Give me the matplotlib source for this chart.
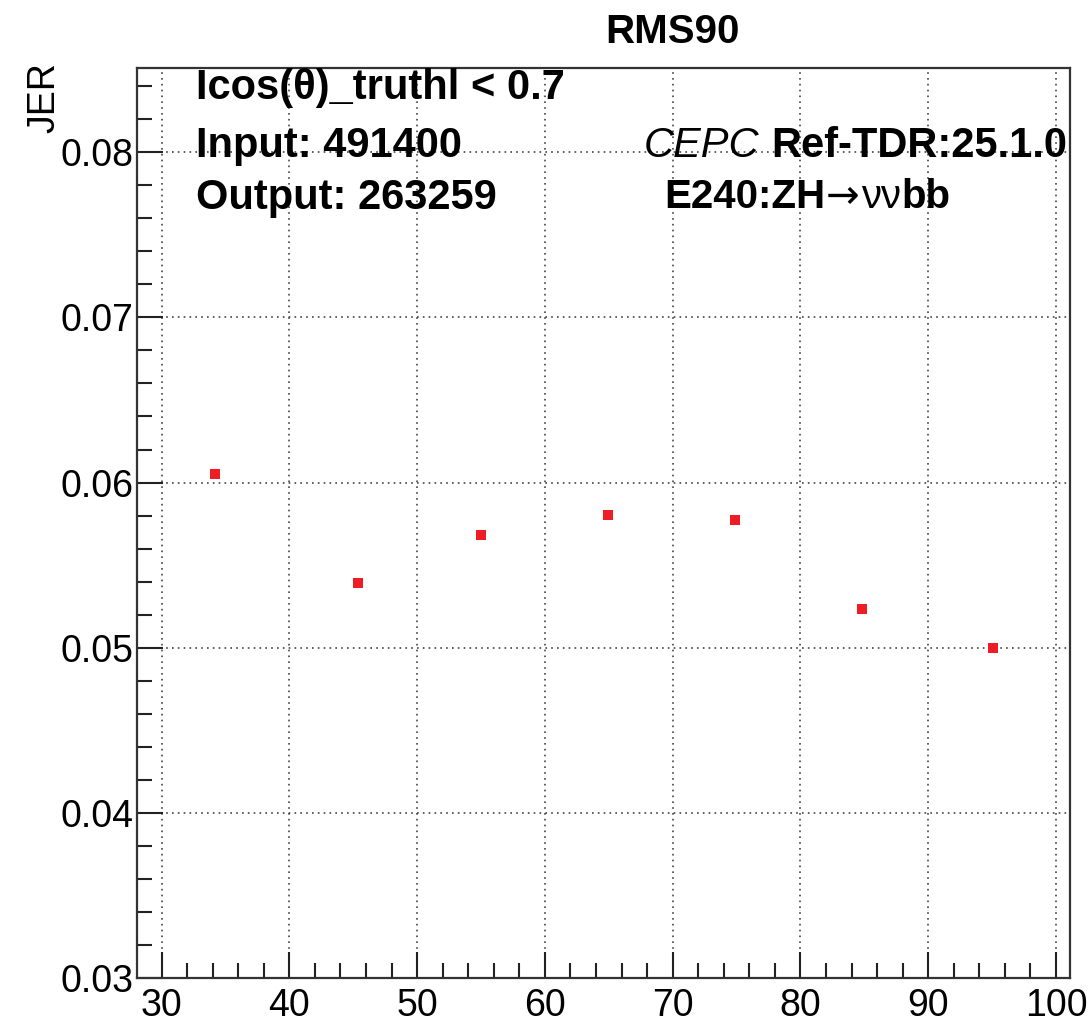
import matplotlib
matplotlib.use("Agg")
import matplotlib.pyplot as plt
from matplotlib.ticker import MultipleLocator

# jet energy (GeV) vs JER (RMS90)
energy = [34.2, 45.4, 55.0, 64.95, 74.9, 84.8, 95.1]
jer = [0.06054, 0.05393, 0.05683, 0.05803, 0.05773, 0.05237, 0.04996]

title = "RMS90"
cut_text = "Icos(θ)_truthl < 0.7"
input_text = "Input: 491400"
output_text = "Output: 263259"
exp_text = "CEPC"
ver_text = "Ref-TDR:25.1.0"
proc_parts = ["E240:ZH", "→", "νν", "bb"]

plt.rcParams['font.family'] = ['Liberation Sans', 'DejaVu Sans']

W, H = 1089, 1024
fig = plt.figure(figsize=(W / 100, H / 100), dpi=100)
ax = fig.add_axes([137.3 / W, 1 - 978 / H, (1070 - 137.3) / W, (978 - 68) / H])


def px(x, y):
    return x / W, 1 - y / H


ax.plot(energy, jer, linestyle='none', marker='s', markersize=7.4,
        color='#ee1c24', markeredgewidth=0, zorder=5)

ax.set_xlim(28.1, 101.1)
ax.set_ylim(0.03, 0.0851)
ax.xaxis.set_major_locator(MultipleLocator(10))
ax.xaxis.set_minor_locator(MultipleLocator(2))
ax.yaxis.set_major_locator(MultipleLocator(0.01))
ax.yaxis.set_minor_locator(MultipleLocator(0.002))
ax.yaxis.set_major_formatter(matplotlib.ticker.FormatStrFormatter('%.2f'))

ax.tick_params(which='both', direction='in', top=False, right=False,
               color='#222222', width=1.5)
ax.tick_params(which='major', length=19, labelsize=27)
ax.tick_params(axis='x', which='major', pad=7)
ax.tick_params(axis='y', which='major', pad=3)
ax.tick_params(which='minor', length=10.5)

ax.grid(True, which='major', linestyle=(0, (1, 2.5)), color='#444444', linewidth=1.2)
for s in ax.spines.values():
    s.set_linewidth(1.6)
    s.set_color('#333333')

fig.text(*px(44, 62), "JER", rotation=90, ha='center', va='top', fontsize=27)
fig.text(*px(672, 32), title, ha='center', va='center', fontsize=29, fontweight='bold')

fig.text(*px(196, 99), cut_text, ha='left', va='baseline', fontsize=30, fontweight='bold')
fig.text(*px(196, 157), input_text, ha='left', va='baseline', fontsize=30, fontweight='bold')
fig.text(*px(196, 209), output_text, ha='left', va='baseline', fontsize=30, fontweight='bold')

fig.text(*px(644, 157), exp_text, ha='left', va='baseline', fontsize=30, fontstyle='italic')
fig.text(*px(1067, 157), ver_text, ha='right', va='baseline', fontsize=30, fontweight='bold')

# process label: bold pieces with a thin arrow and nu in between, placed one after another
styles = [dict(fontweight='bold'),
          dict(family=['DejaVu Sans'], fontweight='normal'),
          dict(fontweight='normal'),
          dict(fontweight='bold')]
renderer = fig.canvas.get_renderer()
xcur = 664
for part, st in zip(proc_parts, styles):
    t = fig.text(*px(xcur, 208), part, ha='left', va='baseline', fontsize=29, **st)
    bb = t.get_window_extent(renderer=renderer)
    xcur += bb.width + 1

fig.savefig("out.png", dpi=100, facecolor='white')
